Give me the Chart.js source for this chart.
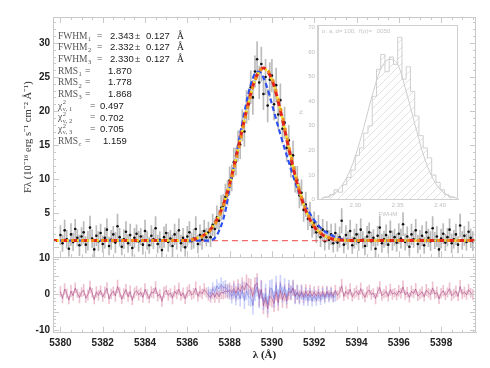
<!DOCTYPE html>
<html>
<head>
<meta charset="utf-8">
<script src="https://cdn.jsdelivr.net/npm/chart.js@4.4.1/dist/chart.umd.min.js"></script>
<style>
  html, body { margin: 0; padding: 0; background: #fff; }
  #wrap { position: relative; width: 490px; height: 368px; }
  #main { position: absolute; left: 0; top: 0; }
  #inset { position: absolute; left: 298px; top: 15px; }
</style>
</head>
<body>
<div id="wrap">
  <canvas id="main" width="490" height="368"></canvas>
  <canvas id="inset" width="168" height="203"></canvas>
</div>
<script>
// ---- spectrum (wavelength grid, flux, 1-sigma errors) ----
const wave = [
  5380.0,5380.1,5380.2,5380.3,5380.4,5380.5,5380.6,5380.7,5380.8,5380.9,
  5381.0,5381.1,5381.2,5381.3,5381.4,5381.5,5381.6,5381.7,5381.8,5381.9,
  5382.0,5382.1,5382.2,5382.3,5382.4,5382.5,5382.6,5382.7,5382.8,5382.9,
  5383.0,5383.1,5383.2,5383.3,5383.4,5383.5,5383.6,5383.7,5383.8,5383.9,
  5384.0,5384.1,5384.2,5384.3,5384.4,5384.5,5384.6,5384.7,5384.8,5384.9,
  5385.0,5385.1,5385.2,5385.3,5385.4,5385.5,5385.6,5385.7,5385.8,5385.9,
  5386.0,5386.1,5386.2,5386.3,5386.4,5386.5,5386.6,5386.7,5386.8,5386.9,
  5387.0,5387.1,5387.2,5387.3,5387.4,5387.5,5387.6,5387.7,5387.8,5387.9,
  5388.0,5388.1,5388.2,5388.3,5388.4,5388.5,5388.6,5388.7,5388.8,5388.9,
  5389.0,5389.1,5389.2,5389.3,5389.4,5389.5,5389.6,5389.7,5389.8,5389.9,
  5390.0,5390.1,5390.2,5390.3,5390.4,5390.5,5390.6,5390.7,5390.8,5390.9,
  5391.0,5391.1,5391.2,5391.3,5391.4,5391.5,5391.6,5391.7,5391.8,5391.9,
  5392.0,5392.1,5392.2,5392.3,5392.4,5392.5,5392.6,5392.7,5392.8,5392.9,
  5393.0,5393.1,5393.2,5393.3,5393.4,5393.5,5393.6,5393.7,5393.8,5393.9,
  5394.0,5394.1,5394.2,5394.3,5394.4,5394.5,5394.6,5394.7,5394.8,5394.9,
  5395.0,5395.1,5395.2,5395.3,5395.4,5395.5,5395.6,5395.7,5395.8,5395.9,
  5396.0,5396.1,5396.2,5396.3,5396.4,5396.5,5396.6,5396.7,5396.8,5396.9,
  5397.0,5397.1,5397.2,5397.3,5397.4,5397.5,5397.6,5397.7,5397.8,5397.9,
  5398.0,5398.1,5398.2,5398.3,5398.4,5398.5,5398.6,5398.7,5398.8,5398.9,
  5399.0,5399.1,5399.2,5399.3,5399.4,5399.5
];
const flux = [
  1.8,0.6,2.5,1.2,-0.2,1.9,0.8,2.7,1.4,0.3,
  1.6,2.2,0.4,1.0,2.9,1.3,-0.3,1.7,0.9,2.1,
  0.5,1.4,2.6,0.2,1.1,1.9,0.7,3.1,1.5,0.1,
  1.2,2.3,0.6,1.8,-0.1,1.4,2.0,0.9,1.6,0.4,
  2.4,1.0,0.3,1.7,1.2,2.8,0.5,1.1,-0.4,1.5,
  2.1,0.8,1.3,0.2,1.9,1.0,2.5,0.6,1.4,0.0,
  1.6,2.2,0.9,1.3,2.7,0.5,1.8,1.1,2.4,1.5,
  2.2,1.5,3.3,2.7,4.4,3.9,5.8,6.1,7.4,8.0,
  9.8,10.2,12.5,12.6,14.9,15.1,17.9,17.0,20.6,21.0,
  23.5,22.0,25.8,27.6,24.2,26.9,22.5,25.0,20.8,24.6,
  25.2,21.0,23.8,19.5,21.6,17.4,18.3,14.6,15.7,12.2,
  13.5,10.0,9.9,7.6,8.0,5.5,6.3,4.2,4.9,3.0,
  3.6,2.2,3.1,1.5,2.6,0.9,2.3,1.1,1.9,0.6,
  2.1,0.7,1.5,3.9,0.4,1.8,1.0,2.4,0.3,1.3,
  1.9,0.8,2.6,1.1,0.2,1.6,2.2,0.9,1.4,-0.2,
  1.7,2.9,0.6,1.2,1.8,0.4,2.3,1.0,1.5,0.7,
  2.0,1.3,3.4,0.8,1.6,0.1,1.9,1.2,2.5,0.5,
  1.1,1.7,0.3,2.2,1.4,0.9,2.8,1.0,1.6,-0.3,
  1.3,2.0,0.7,1.5,2.6,0.6,1.2,1.9,0.4,3.2,
  1.0,1.7,0.8,2.3,1.4,0.9
];
const fluxErr = [
  1.4,1.2,1.5,1.3,1.1,1.6,1.3,1.4,1.2,1.5,
  1.3,1.6,1.2,1.4,1.7,1.3,1.2,1.5,1.4,1.3,
  1.2,1.5,1.6,1.3,1.4,1.2,1.5,1.8,1.3,1.2,
  1.4,1.5,1.3,1.6,1.2,1.4,1.3,1.5,1.2,1.4,
  1.6,1.3,1.2,1.5,1.4,1.7,1.3,1.2,1.4,1.5,
  1.3,1.4,1.2,1.6,1.5,1.3,1.7,1.2,1.4,1.3,
  1.5,1.6,1.2,1.4,1.8,1.3,1.5,1.4,1.6,1.3,
  1.5,1.4,1.6,1.5,1.7,1.6,1.8,1.7,1.9,1.8,
  2.0,1.9,2.1,2.0,2.2,2.1,2.3,2.2,2.4,2.3,
  2.4,2.5,2.3,2.6,2.4,2.5,2.3,2.6,2.4,2.5,
  2.4,2.3,2.5,2.2,2.4,2.1,2.3,2.0,2.2,1.9,
  2.1,1.9,2.0,1.8,1.9,1.7,1.8,1.6,1.7,1.5,
  1.6,1.5,1.6,1.4,1.5,1.3,1.5,1.4,1.5,1.3,
  1.4,1.3,1.5,1.8,1.2,1.4,1.3,1.6,1.2,1.4,
  1.5,1.3,1.6,1.2,1.3,1.5,1.4,1.3,1.2,1.5,
  1.4,1.7,1.3,1.2,1.5,1.3,1.6,1.4,1.2,1.3,
  1.5,1.4,1.7,1.2,1.4,1.3,1.5,1.2,1.6,1.3,
  1.4,1.5,1.2,1.6,1.3,1.4,1.7,1.2,1.5,1.3,
  1.4,1.5,1.2,1.3,1.6,1.4,1.3,1.5,1.2,1.7,
  1.3,1.4,1.2,1.5,1.3,1.4
];

// ---- fit residuals (same grid); blue-model residuals only over the line ----
const residual = [
  0.8,-1.2,1.5,0.2,-1.6,0.9,-0.4,1.8,0.3,-0.9,
  0.6,1.2,-1.1,-0.2,2.0,0.4,-1.5,0.7,-0.3,1.1,
  -0.8,0.5,1.7,-1.3,0.1,0.9,-0.5,2.2,0.6,-1.4,
  0.2,1.3,-0.7,0.8,-1.7,0.4,1.0,-0.2,0.6,-0.9,
  1.4,0.0,-1.2,0.7,0.3,1.9,-0.6,0.1,-2.0,0.5,
  1.1,-0.3,0.4,-1.1,0.9,0.0,1.5,-0.5,0.4,-1.3,
  0.6,1.2,-0.2,0.3,1.7,-0.6,0.8,0.1,1.4,0.5,
  -0.2,-0.9,0.4,-0.8,0.5,-0.7,0.6,0.4,0.9,0.7,
  1.2,0.5,1.6,0.3,1.9,0.8,2.4,1.2,3.1,2.2,
  1.8,-0.6,2.4,3.2,-0.9,1.4,-3.2,-0.9,-4.1,-0.6,
  -1.2,-2.6,0.8,-2.4,1.1,-1.6,0.4,-1.9,0.8,0.3,
  1.7,-0.5,0.6,-0.6,0.8,-0.7,0.9,-0.5,0.9,-0.5,
  0.6,-0.5,0.7,-0.6,0.8,-0.7,0.8,-0.3,0.6,-0.6,
  1.1,-0.3,0.5,2.4,-0.6,0.8,0.0,1.4,-0.7,0.3,
  0.9,-0.2,1.6,0.1,-0.8,0.6,1.2,-0.1,0.4,-1.2,
  0.7,1.9,-0.4,0.2,0.8,-0.6,1.3,0.0,0.5,-0.3,
  1.0,0.3,2.1,-0.2,0.6,-0.9,0.9,0.2,1.5,-0.5,
  0.1,0.7,-0.7,1.2,0.4,-0.1,1.8,0.0,0.6,-1.3,
  0.3,1.0,-0.3,0.5,1.6,-0.4,0.2,0.9,-0.6,2.2,
  0.0,0.7,-0.2,1.3,0.4,-0.1
];
const lineStart = 70, lineEnd = 131;   // index range 5387.0 - 5393.0
const residualBlue = [
  0.6,0.1,1.6,0.8,2.4,1.5,2.8,1.9,2.0,1.1,
  0.6,-0.6,0.9,-1.0,0.8,-1.2,1.2,-1.8,0.9,-0.8,
  -0.9,-3.1,0.5,2.1,-1.4,1.3,-2.0,0.3,-2.9,1.4,
  1.7,-1.4,2.6,-0.9,3.0,0.0,2.1,-0.8,1.8,0.6,
  1.9,-0.8,0.5,-1.0,0.4,-1.4,0.0,-1.6,-0.1,-1.8,
  -0.4,-1.6,-0.2,-1.5,0.1,-1.2,0.4,-0.8,0.2,-0.9,
  -0.6
];

// ---- model profiles ----
const fitWave = [5379.6,5386.0,5386.4,5386.8,5387.2,5387.6,5388.0,5388.4,5388.8,5389.2,5389.6,
                 5390.0,5390.4,5390.8,5391.2,5391.6,5392.0,5392.4,5392.8,5393.2,5394.0,5399.7];
const fitRed    = [1.0,1.02,1.29,1.83,3.05,5.4,9.3,14.5,20.1,24.6,26.3,24.6,20.1,14.5,9.3,5.4,3.05,1.83,1.29,1.09,1.0,1.0];
const fitOrange = [1.0,1.02,1.25,1.75,2.9,5.2,9.0,14.1,19.8,24.4,26.3,24.9,20.5,14.9,9.6,5.6,3.15,1.9,1.32,1.1,1.0,1.0];
const fitYellow = [1.0,1.02,1.28,1.8,3.0,5.35,9.2,14.4,20.0,24.5,26.2,24.6,20.2,14.6,9.4,5.45,3.1,1.85,1.3,1.1,1.0,1.0];
const blueWave = [5379.6,5387.0,5387.4,5387.8,5388.0,5388.2,5388.4,5388.6,5388.8,5389.0,5389.2,5389.4,5389.6,
                  5389.8,5390.0,5390.4,5390.8,5391.2,5391.6,5392.0,5392.4,5392.8,5393.2,5393.6,5394.0,5399.7];
const fitBlue  = [1.0,1.0,1.8,5.3,8.8,11.9,15.0,18.2,21.3,23.9,25.5,25.8,24.9,23.2,21.0,16.6,12.5,8.7,6.0,4.0,2.6,1.8,1.3,1.1,1.0,1.0];
const contWave = [5379.6, 5399.7];
const contFlux = [1.0, 1.0];

// ---- axis ticks ----
const xTicks = [5380,5382,5384,5386,5388,5390,5392,5394,5396,5398];
const fluxTicks = [5,10,15,20,25,30];
const resTicks = [-10,-5,0,5,10];

// ---- fit statistics printed in the panel ----
const fwhmVals = ['2.343','2.332','2.330'];
const fwhmErrs = ['0.127','0.127','0.127'];
const rmsVals = ['1.870','1.778','1.868'];
const chiVals = ['0.497','0.702','0.705'];
const rmsContVal = '1.159';

// ---- inset: FWHM distribution ----
const histCenters = [2.2625,2.2675,2.2725,2.2775,2.2825,2.2875,2.2925,2.2975,2.3025,2.3075,2.3125,2.3175,
                     2.3225,2.3275,2.3325,2.3375,2.3425,2.3475,2.3525,2.3575,2.3625,2.3675,2.3725,2.3775,
                     2.3825,2.3875,2.3925,2.3975,2.4025,2.4075,2.4125,2.4175];
const histCounts = [1,1,2,4,3,6,9,12,18,21,27,30,42,53,59,52,58,55,66,49,54,44,34,26,21,17,10,7,4,2,1,1];
const gaussX = [2.26,2.27,2.28,2.29,2.30,2.31,2.32,2.33,2.34,2.35,2.36,2.37,2.38,2.39,2.40,2.41,2.42];
const gaussY = [0.5,1.5,4.0,9.0,17.5,29.3,42.4,53,57,55,44,31,18.5,9.5,4.2,1.6,0.5];
const insetXTicks = [2.30,2.35,2.40];
const insetYTicks = [0,10,20,30,40,50,60,70];

const FRAME = '#c9c9c9';
const TICKFONT = { family: "'Liberation Sans', Arial, sans-serif", size: 10, weight: 'bold' };

const pts = (xs, ys) => xs.map((x, i) => ({ x, y: ys[i] }));
const bars = (xs, ys, es) => xs.map((x, i) => ({ x, y: [ys[i] - es[i], ys[i] + es[i]] }));

const blueIdx = wave.slice(lineStart, lineEnd);
const blueErr = fluxErr.slice(lineStart, lineEnd);

// frame, inward ticks, panel divider and the text block
const framePlugin = {
  id: 'frame',
  afterDraw(chart) {
    const { ctx, chartArea: a, scales } = chart;
    const sx = scales.x, sy = scales.y, sr = scales.yr;
    ctx.save();
    ctx.strokeStyle = FRAME;
    ctx.lineWidth = 1;
    ctx.strokeRect(Math.round(a.left) + 0.5, Math.round(a.top) + 0.5, Math.round(a.width) - 1, Math.round(a.height) - 1);
    const yDiv = Math.round(sy.bottom) + 0.5;
    ctx.beginPath(); ctx.moveTo(a.left, yDiv); ctx.lineTo(a.right, yDiv); ctx.stroke();

    ctx.beginPath();
    for (let v = 5380; v <= 5399.5; v += 0.5) {
      const px = Math.round(sx.getPixelForValue(v)) + 0.5;
      const len = (v % 2 === 0) ? 6 : 3;
      ctx.moveTo(px, a.top); ctx.lineTo(px, a.top + len);
      ctx.moveTo(px, sy.bottom); ctx.lineTo(px, sy.bottom - len);
      ctx.moveTo(px, a.bottom); ctx.lineTo(px, a.bottom - len);
    }
    for (let v = 0; v <= 33; v += 1) {
      const py = Math.round(sy.getPixelForValue(v)) + 0.5;
      const len = (v % 5 === 0) ? 6 : 3;
      ctx.moveTo(a.left, py); ctx.lineTo(a.left + len, py);
      ctx.moveTo(a.right, py); ctx.lineTo(a.right - len, py);
    }
    for (let v = -10; v <= 10; v += 1) {
      const py = Math.round(sr.getPixelForValue(v)) + 0.5;
      const len = (v % 5 === 0) ? 6 : 3;
      ctx.moveTo(a.left, py); ctx.lineTo(a.left + len, py);
      ctx.moveTo(a.right, py); ctx.lineTo(a.right - len, py);
    }
    ctx.stroke();

    // statistics block
    const serif = "9.5px 'Liberation Serif', serif";
    const serifSm = "6.5px 'Liberation Serif', serif";
    const sans = "9.5px 'Liberation Sans', Arial, sans-serif";
    ctx.textBaseline = 'middle';
    const x0 = a.left + 5;
    const rowY = i => a.top + 19 + i * 11.7;
    const label = (base, sub, y, sup) => {
      ctx.font = serif; ctx.fillStyle = '#555';
      ctx.fillText(base, x0, y);
      const w = ctx.measureText(base).width;
      ctx.font = serifSm;
      if (sup) ctx.fillText(sup, x0 + w + 0.5, y - 3.5);
      ctx.fillText(sub, x0 + w + 0.5, y + 3);
    };
    const text = (s, x, y, f, c) => { ctx.font = f; ctx.fillStyle = c; ctx.fillText(s, x, y); };
    fwhmVals.forEach((v, i) => {
      const y = rowY(i);
      label('FWHM', String(i + 1), y);
      text('=', x0 + 39, y, serif, '#555');
      text(v, x0 + 52, y, sans, '#1a1a1a');
      text('±', x0 + 77, y, sans, '#555');
      text(fwhmErrs[i], x0 + 88, y, sans, '#1a1a1a');
      text('Å', x0 + 119, y, serif, '#1a1a1a');
    });
    rmsVals.forEach((v, i) => {
      const y = rowY(3 + i);
      label('RMS', String(i + 1), y);
      text('=', x0 + 27, y, serif, '#555');
      text(v, x0 + 50, y, sans, '#1a1a1a');
    });
    chiVals.forEach((v, i) => {
      const y = rowY(6 + i);
      label('χ', 'ν, ' + (i + 1), y, '2');
      text('=', x0 + 32, y, serif, '#555');
      text(v, x0 + 42, y, sans, '#1a1a1a');
    });
    label('RMS', 'c', rowY(9));
    text('=', x0 + 27, rowY(9), serif, '#555');
    text(rmsContVal, x0 + 45, rowY(9), sans, '#1a1a1a');
    ctx.restore();
  }
};

new Chart(document.getElementById('main'), {
  type: 'line',
  data: {
    datasets: [
      { type: 'bar', data: bars(wave, flux, fluxErr), backgroundColor: 'rgba(120,120,120,0.5)',
        barThickness: 1, grouped: false, yAxisID: 'y', order: 20 },
      { data: pts(wave, flux), showLine: false, pointRadius: 1.3, pointBackgroundColor: '#111',
        pointBorderWidth: 0, yAxisID: 'y', order: 19 },
      { data: pts(contWave, contFlux), borderColor: 'rgba(240,80,80,0.85)', borderWidth: 1.3,
        borderDash: [6, 4], pointRadius: 0, yAxisID: 'y', order: 18 },
      { data: pts(blueWave, fitBlue), borderColor: '#2e4ff0', borderWidth: 2.2, borderDash: [5, 3],
        pointRadius: 0, cubicInterpolationMode: 'monotone', yAxisID: 'y', order: 17 },
      { data: pts(fitWave, fitRed), borderColor: '#e3261c', borderWidth: 3, borderDash: [6, 4],
        pointRadius: 0, cubicInterpolationMode: 'monotone', yAxisID: 'y', order: 16 },
      { data: pts(fitWave, fitOrange), borderColor: '#f0901c', borderWidth: 3, borderDash: [3, 7],
        borderDashOffset: 1, pointRadius: 0, cubicInterpolationMode: 'monotone', yAxisID: 'y', order: 15 },
      { data: pts(fitWave, fitYellow), borderColor: '#f6e51e', borderWidth: 2.5, borderDash: [2, 8],
        borderDashOffset: 5, pointRadius: 0, cubicInterpolationMode: 'monotone', yAxisID: 'y', order: 14 },

      { type: 'bar', data: bars(wave, residual, fluxErr), backgroundColor: 'rgba(215,120,150,0.45)',
        barThickness: 1, grouped: false, yAxisID: 'yr', order: 13 },
      { type: 'bar', data: bars(blueIdx, residualBlue, blueErr), backgroundColor: 'rgba(110,130,240,0.35)',
        barThickness: 1, grouped: false, yAxisID: 'yr', order: 12 },
      { data: pts(blueIdx, residualBlue), borderColor: 'rgba(100,120,235,0.55)', borderWidth: 1,
        pointRadius: 0, yAxisID: 'yr', order: 11 },
      { data: pts(wave, residual), borderColor: 'rgba(170,80,140,0.65)', borderWidth: 1,
        pointRadius: 0, yAxisID: 'yr', order: 10 }
    ]
  },
  options: {
    responsive: false,
    animation: false,
    layout: { padding: { left: 22, right: 14, top: 17, bottom: 6 } },
    plugins: { legend: { display: false }, tooltip: { enabled: false } },
    scales: {
      x: {
        type: 'linear', min: 5379.65, max: 5399.65, offset: false,
        afterBuildTicks: s => { s.ticks = xTicks.map(v => ({ value: v })); },
        ticks: { font: TICKFONT, color: '#222', padding: 4, maxRotation: 0, autoSkip: false, callback: v => String(v) },
        grid: { display: false, drawTicks: false, offset: false },
        border: { color: FRAME },
        title: { display: true, text: 'λ (Å)', color: '#222', padding: { top: -4, bottom: 0 },
                 font: { family: "'Liberation Serif', serif", size: 11, weight: 'bold' } }
      },
      yr: {
        stack: 'panels', stackWeight: 1, min: -10.8, max: 10.4, position: 'left',
        afterBuildTicks: s => { s.ticks = resTicks.map(v => ({ value: v })); },
        afterFit: s => { s.width = 31; },
        ticks: { font: TICKFONT, color: '#222', padding: 3 },
        grid: { display: false, drawTicks: false },
        border: { color: FRAME }
      },
      y: {
        stack: 'panels', stackWeight: 3.18, min: -1.45, max: 33.8, position: 'left',
        afterBuildTicks: s => { s.ticks = fluxTicks.map(v => ({ value: v })); },
        afterFit: s => { s.width = 31; },
        ticks: { font: TICKFONT, color: '#222', padding: 3 },
        grid: { display: false, drawTicks: false },
        border: { color: FRAME },
        title: { display: true, text: 'Fλ (10⁻¹⁶ erg s⁻¹ cm⁻² Å⁻¹)', color: '#333', padding: { top: 0, bottom: 2 },
                 font: { family: "'Liberation Serif', serif", size: 10.5 } }
      }
    }
  },
  plugins: [framePlugin]
});

// ---- inset histogram ----
const hatchCanvas = document.createElement('canvas');
hatchCanvas.width = 8; hatchCanvas.height = 8;
const hc = hatchCanvas.getContext('2d');
hc.strokeStyle = '#d4d4d4'; hc.lineWidth = 0.7;
hc.beginPath(); hc.moveTo(0, 8); hc.lineTo(8, 0); hc.moveTo(-1, 1); hc.lineTo(1, -1); hc.moveTo(7, 9); hc.lineTo(9, 7); hc.stroke();
const insetCtx = document.getElementById('inset').getContext('2d');
const hatch = insetCtx.createPattern(hatchCanvas, 'repeat');

const insetFont = { family: "'Liberation Sans', Arial, sans-serif", size: 6 };
const insetText = {
  id: 'insetText',
  afterDraw(chart) {
    const { ctx, chartArea: a } = chart;
    ctx.save();
    ctx.strokeStyle = '#d0d0d0'; ctx.lineWidth = 1;
    ctx.strokeRect(Math.round(a.left) + 0.5, Math.round(a.top) + 0.5, Math.round(a.width) - 1, Math.round(a.height) - 1);
    ctx.font = "6px 'Liberation Sans', Arial, sans-serif";
    ctx.fillStyle = '#c4c4c4';
    ctx.textBaseline = 'middle';
    ctx.fillText('σ, a, d= 100,  f(σ)=  .0050', a.left + 4, a.top + 6);
    ctx.restore();
  }
};

new Chart(insetCtx, {
  type: 'bar',
  data: {
    datasets: [
      { type: 'line', data: pts(gaussX, gaussY), borderColor: '#cdcdcd', borderWidth: 1,
        pointRadius: 0, cubicInterpolationMode: 'monotone', order: 1 },
      { type: 'line', data: pts(histCenters, histCounts), borderColor: '#cfcfcf', borderWidth: 1,
        stepped: 'middle', pointRadius: 0, order: 2 },
      { type: 'bar', data: pts(histCenters, histCounts), backgroundColor: hatch, borderWidth: 0,
        barPercentage: 1, categoryPercentage: 1, order: 3 }
    ]
  },
  options: {
    responsive: false,
    animation: false,
    layout: { padding: { left: 0, right: 8, top: 10, bottom: 0 } },
    plugins: { legend: { display: false }, tooltip: { enabled: false } },
    scales: {
      x: {
        type: 'linear', min: 2.256, max: 2.421, offset: false,
        afterBuildTicks: s => { s.ticks = insetXTicks.map(v => ({ value: v })); },
        ticks: { font: insetFont, color: '#bdbdbd', padding: 2, maxRotation: 0, callback: v => v.toFixed(2) },
        grid: { display: false, drawTicks: false, offset: false },
        border: { color: '#d0d0d0' },
        title: { display: true, text: 'FWHM', color: '#c4c4c4', font: insetFont, padding: 0 }
      },
      y: {
        min: 0, max: 71,
        afterBuildTicks: s => { s.ticks = insetYTicks.map(v => ({ value: v })); },
        ticks: { font: insetFont, color: '#bdbdbd', padding: 3 },
        grid: { display: false, drawTicks: false },
        border: { color: '#d0d0d0' },
        title: { display: true, text: 'N', color: '#c4c4c4', font: insetFont, padding: 0 }
      }
    }
  },
  plugins: [insetText]
});
</script>
</body>
</html>
